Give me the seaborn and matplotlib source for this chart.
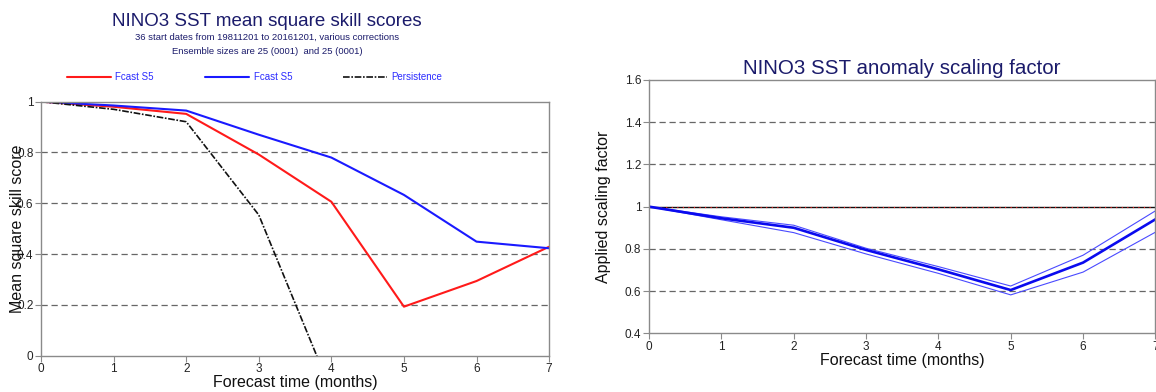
import matplotlib
matplotlib.use("Agg")
import matplotlib.pyplot as plt
import numpy as np
import pandas as pd
import seaborn as sns

sns.set_theme(style="white")
plt.rcParams["font.family"] = ["Liberation Sans", "DejaVu Sans"]

# Skill scores by lead time
lead = [0, 1, 2, 3, 4, 5, 6, 7]
fcast_red = [1.0, 0.98, 0.952, 0.792, 0.606, 0.193, 0.294, 0.429]
fcast_blue = [1.0, 0.985, 0.965, 0.870, 0.780, 0.633, 0.449, 0.423]
persist_lead = [0, 1, 2, 3, 4]
persistence = [1.0, 0.97, 0.921, 0.554, -0.14]

# Anomaly scaling factor with its spread
scale_mid = [1.0, 0.945, 0.900, 0.795, 0.703, 0.605, 0.735, 0.940]
scale_hi = [1.0, 0.952, 0.912, 0.803, 0.716, 0.624, 0.770, 0.980]
scale_lo = [1.0, 0.938, 0.877, 0.776, 0.684, 0.582, 0.690, 0.879]
reference_level = [1.0] * len(lead)

left_yticks = [0, 0.2, 0.4, 0.6, 0.8, 1.0]
left_yticklabels = ["0", "0.2", "0.4", "0.6", "0.8", "1"]
right_yticks = [0.4, 0.6, 0.8, 1.0, 1.2, 1.4, 1.6]
right_yticklabels = ["0.4", "0.6", "0.8", "1", "1.2", "1.4", "1.6"]

navy = "#1b1b6b"
spine_col = "#8a8a8a"

fig = plt.figure(figsize=(11.56, 3.92), dpi=100)
ax1 = fig.add_axes([0.0355, 0.0926, 0.4395, 0.648])
ax2 = fig.add_axes([0.5614, 0.1497, 0.4381, 0.6463])


def style_axes(ax, yticks, ylabels, ylim, grid_vals):
    ax.set_xlim(0, 7)
    ax.set_ylim(*ylim)
    ax.set_xticks(lead)
    ax.set_xticklabels([str(v) for v in lead], fontsize=8.5)
    ax.set_yticks(yticks)
    ax.set_yticklabels(ylabels, fontsize=8.5)
    for s in ax.spines.values():
        s.set_color(spine_col)
        s.set_linewidth(1.0)
        s.set_visible(True)
    ax.tick_params(axis="both", direction="out", length=4, width=0.8,
                   color=spine_col, pad=1.5, labelcolor="#222222",
                   bottom=True, left=True)
    for g in grid_vals:
        ax.axhline(g, color="#666666", lw=0.9, ls=(0, (5, 3)), zorder=0.5)
    ax.grid(False)


# Left panel
style_axes(ax1, left_yticks, left_yticklabels, (0, 1), [0.2, 0.4, 0.6, 0.8])
sns.lineplot(x=lead, y=fcast_red, ax=ax1, color="#ff1a1a", lw=1.5, label="Fcast S5")
sns.lineplot(x=lead, y=fcast_blue, ax=ax1, color="#1a1aff", lw=1.5, label="Fcast S5")
sns.lineplot(x=persist_lead, y=persistence, ax=ax1, color="#111111", lw=1.2,
             ls=(0, (4, 1, 1, 1)), label="Persistence")
ax1.set_xlabel("Forecast time (months)", fontsize=11.5, labelpad=0, color="#111111")
ax1.set_ylabel("Mean square skill score", fontsize=11.5, labelpad=-6, color="#111111")
handles, labels = ax1.get_legend_handles_labels()
ax1.get_legend().remove()
leg = fig.legend(handles, labels, loc="center left", bbox_to_anchor=(0.0502, 0.803),
                 ncol=3, frameon=False, fontsize=7, handlelength=4.5,
                 handletextpad=0.5, columnspacing=5.25)
for t in leg.get_texts():
    t.set_color("#2b2bff")

fig.text(0.231, 0.945, "NINO3 SST mean square skill scores", ha="center", va="center",
         fontsize=13.5, color=navy)
fig.text(0.231, 0.905, "36 start dates from 19811201 to 20161201, various corrections",
         ha="center", va="center", fontsize=6.8, color=navy)
fig.text(0.231, 0.869, "Ensemble sizes are 25 (0001)  and 25 (0001)",
         ha="center", va="center", fontsize=6.8, color=navy)

# Right panel
style_axes(ax2, right_yticks, right_yticklabels, (0.4, 1.6), [0.6, 0.8, 1.2, 1.4])
sns.lineplot(x=lead, y=reference_level, ax=ax2, color="#111111", lw=1.0)
sns.lineplot(x=lead, y=reference_level, ax=ax2, color="#ff2020", lw=0.8, ls=(0, (1, 4)))
sns.lineplot(x=lead, y=scale_hi, ax=ax2, color="#4a4aff", lw=0.8)
sns.lineplot(x=lead, y=scale_lo, ax=ax2, color="#4a4aff", lw=0.8)
sns.lineplot(x=lead, y=scale_mid, ax=ax2, color="#0a0aee", lw=1.9)
ax2.set_xlabel("Forecast time (months)", fontsize=11.5, labelpad=0, color="#111111")
ax2.set_ylabel("Applied scaling factor", fontsize=11.5, labelpad=10, color="#111111")
ax2.set_title("NINO3 SST anomaly scaling factor", fontsize=14.8, color=navy, pad=4)

fig.savefig("out.png", dpi=100)
